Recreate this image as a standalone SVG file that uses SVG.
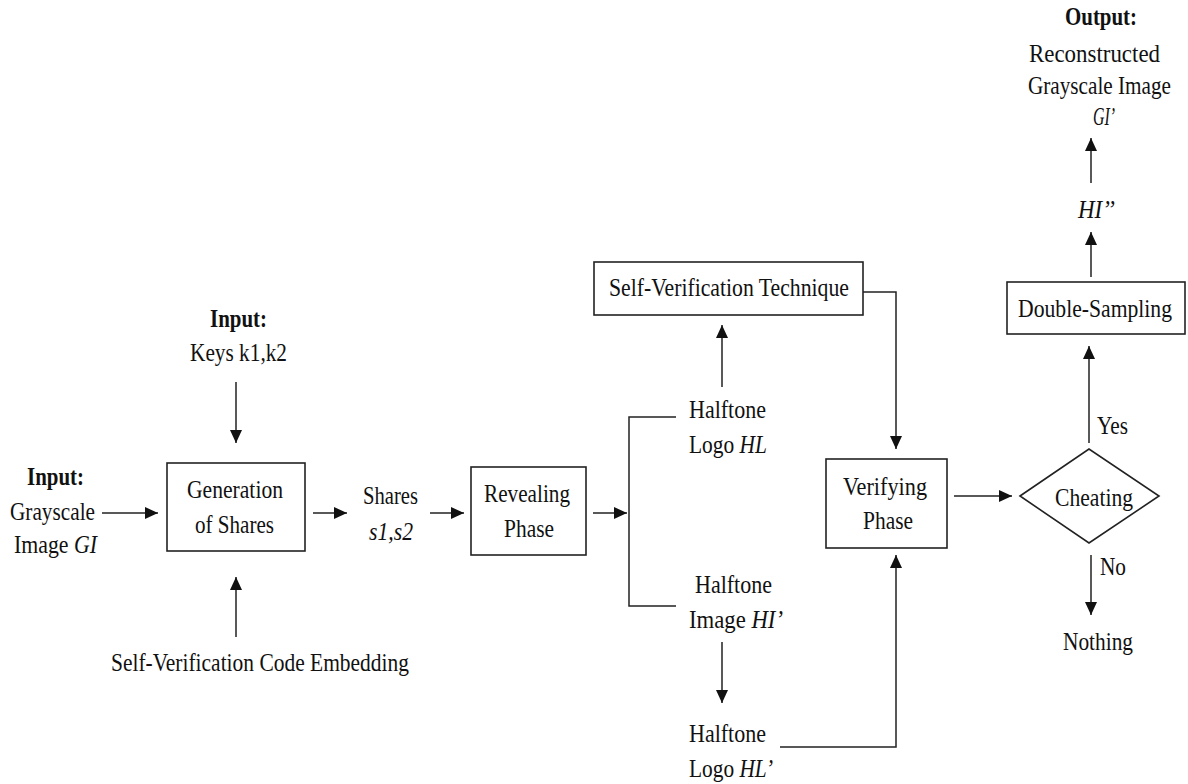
<svg xmlns="http://www.w3.org/2000/svg" width="1188" height="784" viewBox="0 0 1188 784">
<style>
text{font-family:"Liberation Serif","Times New Roman",serif;font-size:26px;fill:#111}
.b{font-weight:bold}
.i{font-style:italic}
.box{fill:#fff;stroke:#222;stroke-width:1.6}
.ln{fill:none;stroke:#222;stroke-width:1.5}
</style>
<defs>
<marker id="ah" markerUnits="userSpaceOnUse" markerWidth="14" markerHeight="12" refX="13" refY="6" orient="auto">
<path d="M0,0 L13,6 L0,12 Z" fill="#111"/>
</marker>
</defs>
<rect width="1188" height="784" fill="#fff"/>
<g id="connectors">
<line class="ln" x1="102" y1="513" x2="158" y2="513" marker-end="url(#ah)"/>
<line class="ln" x1="236" y1="382" x2="236" y2="443" marker-end="url(#ah)"/>
<line class="ln" x1="236" y1="637" x2="236" y2="577" marker-end="url(#ah)"/>
<line class="ln" x1="313" y1="513" x2="347" y2="513" marker-end="url(#ah)"/>
<line class="ln" x1="430" y1="513" x2="464" y2="513" marker-end="url(#ah)"/>
<line class="ln" x1="593" y1="513" x2="627" y2="513" marker-end="url(#ah)"/>
<polyline class="ln" points="676,417 629,417 629,606 676,606"/>
<line class="ln" x1="722" y1="387" x2="722" y2="325" marker-end="url(#ah)"/>
<line class="ln" x1="722" y1="642" x2="722" y2="703" marker-end="url(#ah)"/>
<polyline class="ln" points="849,292 896,292 896,449" marker-end="url(#ah)"/>
<polyline class="ln" points="780,747 896,747 896,555" marker-end="url(#ah)"/>
<line class="ln" x1="954" y1="496" x2="1012" y2="496" marker-end="url(#ah)"/>
<line class="ln" x1="1089" y1="443" x2="1089" y2="346" marker-end="url(#ah)"/>
<line class="ln" x1="1091" y1="555" x2="1091" y2="615" marker-end="url(#ah)"/>
<line class="ln" x1="1091" y1="277" x2="1091" y2="232" marker-end="url(#ah)"/>
<line class="ln" x1="1091" y1="183" x2="1091" y2="138" marker-end="url(#ah)"/>
</g>
<g id="input-gi">
<text class="b" x="27" y="485" textLength="57" lengthAdjust="spacingAndGlyphs">Input:</text>
<text x="10" y="520" textLength="85" lengthAdjust="spacingAndGlyphs">Grayscale</text>
<text x="14" y="553" textLength="83" lengthAdjust="spacingAndGlyphs">Image <tspan class="i">GI</tspan></text>
</g>
<g id="input-keys">
<text class="b" x="210" y="327" textLength="57" lengthAdjust="spacingAndGlyphs">Input:</text>
<text x="190" y="361" textLength="97" lengthAdjust="spacingAndGlyphs">Keys k1,k2</text>
</g>
<g id="generation">
<rect class="box" x="167" y="463" width="138" height="88"/>
<text x="187" y="498" textLength="96" lengthAdjust="spacingAndGlyphs">Generation</text>
<text x="195" y="533" textLength="79" lengthAdjust="spacingAndGlyphs">of Shares</text>
</g>
<g id="embedding">
<text x="111" y="671" textLength="298" lengthAdjust="spacingAndGlyphs">Self-Verification Code Embedding</text>
</g>
<g id="shares">
<text x="363" y="504" textLength="55" lengthAdjust="spacingAndGlyphs">Shares</text>
<text class="i" x="369" y="540" textLength="44" lengthAdjust="spacingAndGlyphs">s1,s2</text>
</g>
<g id="revealing">
<rect class="box" x="471" y="467" width="115" height="88"/>
<text x="484" y="502" textLength="86" lengthAdjust="spacingAndGlyphs">Revealing</text>
<text x="504" y="537" textLength="50" lengthAdjust="spacingAndGlyphs">Phase</text>
</g>
<g id="svt">
<rect class="box" x="594" y="262" width="269" height="53"/>
<text x="609" y="296" textLength="240" lengthAdjust="spacingAndGlyphs">Self-Verification Technique</text>
</g>
<g id="halftone-logo">
<text x="689" y="418" textLength="77" lengthAdjust="spacingAndGlyphs">Halftone</text>
<text x="689" y="453" textLength="78" lengthAdjust="spacingAndGlyphs">Logo <tspan class="i">HL</tspan></text>
</g>
<g id="halftone-image">
<text x="695" y="593" textLength="77" lengthAdjust="spacingAndGlyphs">Halftone</text>
<text x="689" y="628" textLength="94" lengthAdjust="spacingAndGlyphs">Image  <tspan class="i">HI’</tspan></text>
</g>
<g id="halftone-logo2">
<text x="689" y="742" textLength="77" lengthAdjust="spacingAndGlyphs">Halftone</text>
<text x="689" y="777" textLength="84" lengthAdjust="spacingAndGlyphs">Logo <tspan class="i">HL’</tspan></text>
</g>
<g id="verifying">
<rect class="box" x="826" y="459" width="121" height="89"/>
<text x="843" y="495" textLength="84" lengthAdjust="spacingAndGlyphs">Verifying</text>
<text x="863" y="529" textLength="50" lengthAdjust="spacingAndGlyphs">Phase</text>
</g>
<g id="cheating">
<polygon class="box" points="1020,496 1089,449 1159,496 1089,543"/>
<text x="1055" y="506" textLength="78" lengthAdjust="spacingAndGlyphs">Cheating</text>
<text x="1097" y="434" textLength="31" lengthAdjust="spacingAndGlyphs">Yes</text>
<text x="1100" y="575" textLength="26" lengthAdjust="spacingAndGlyphs">No</text>
</g>
<g id="nothing">
<text x="1063" y="650" textLength="70" lengthAdjust="spacingAndGlyphs">Nothing</text>
</g>
<g id="double-sampling">
<rect class="box" x="1007" y="282" width="178" height="52"/>
<text x="1018" y="317" textLength="154" lengthAdjust="spacingAndGlyphs">Double-Sampling</text>
</g>
<g id="hi2">
<text class="i" x="1078" y="218" textLength="37" lengthAdjust="spacingAndGlyphs">HI’’</text>
</g>
<g id="output">
<text class="b" x="1065" y="25" textLength="72" lengthAdjust="spacingAndGlyphs">Output:</text>
<text x="1029" y="62" textLength="131" lengthAdjust="spacingAndGlyphs">Reconstructed</text>
<text x="1028" y="94" textLength="143" lengthAdjust="spacingAndGlyphs">Grayscale Image</text>
<text class="i" x="1093" y="125" textLength="22" lengthAdjust="spacingAndGlyphs">GI’</text>
</g>
</svg>
